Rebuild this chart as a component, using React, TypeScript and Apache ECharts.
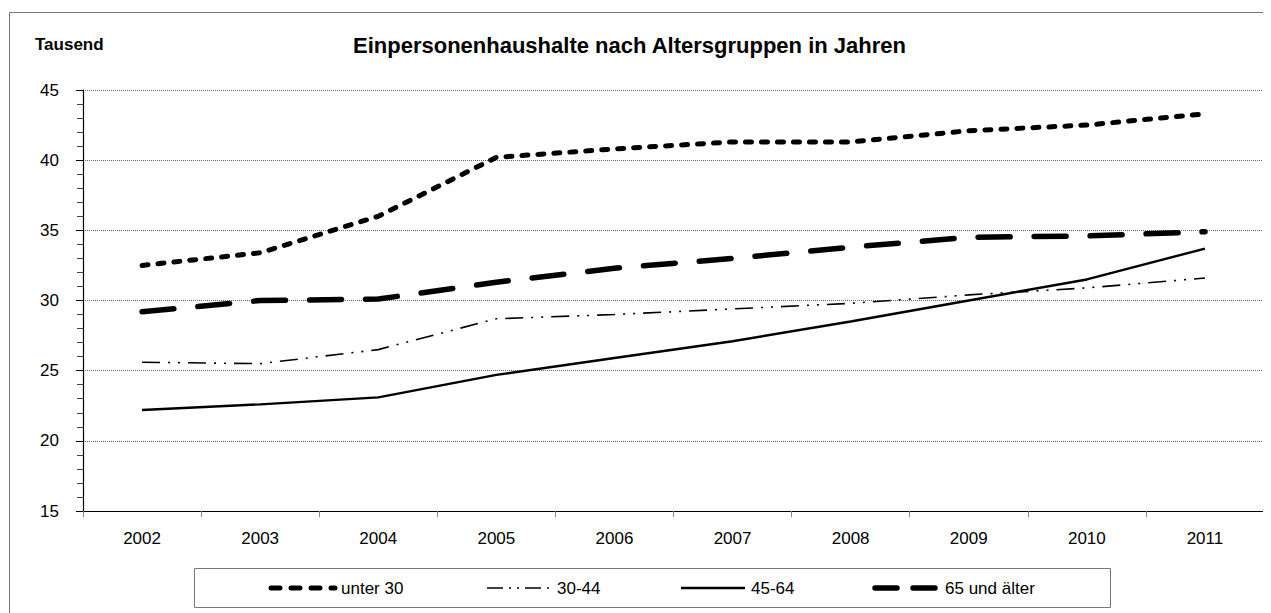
import React, { useEffect, useRef } from "react";
import * as echarts from "echarts";

const years = ["2002", "2003", "2004", "2005", "2006", "2007", "2008", "2009", "2010", "2011"];
const unter30 = [32.5, 33.4, 36.0, 40.2, 40.8, 41.3, 41.3, 42.1, 42.5, 43.3];
const s30bis44 = [25.6, 25.5, 26.5, 28.7, 29.0, 29.4, 29.8, 30.4, 30.9, 31.6];
const s45bis64 = [22.2, 22.6, 23.1, 24.7, 25.9, 27.1, 28.5, 30.0, 31.5, 33.7];
const s65plus = [29.2, 30.0, 30.1, 31.3, 32.3, 33.0, 33.8, 34.5, 34.6, 34.9];
const seriesNames = ["unter 30", "30-44", "45-64", "65 und älter"];
const yTicks = [15, 20, 25, 30, 35, 40, 45];

const FONT = "'Liberation Sans', Arial, sans-serif";

const styles = [
  { width: 5, type: [6, 10] as number[], cap: "round" },
  { width: 1.6, type: [18, 8, 2, 8, 2, 8] as number[], cap: "butt" },
  { width: 2.4, type: "solid" as any, cap: "butt" },
  { width: 5.5, type: [32, 24] as number[], cap: "round" },
];
const legendDash = [[9, 11], [16, 6, 2, 6, 2, 6], null, [22, 16]];

export default function App() {
  const ref = useRef<HTMLDivElement>(null);
  useEffect(() => {
    if (!ref.current) return;
    const chart = echarts.init(ref.current, null, { renderer: "svg" });
    const dataSets = [unter30, s30bis44, s45bis64, s65plus];

    // legend built as graphics (positions are layout only)
    const legendIconX = [260, 476, 670, 864];
    const legendY = 580;
    const legendItems: any[] = [];
    seriesNames.forEach((name, i) => {
      const st = styles[i];
      legendItems.push({
        type: "line",
        shape: { x1: legendIconX[i] + 3, y1: legendY, x2: legendIconX[i] + 67, y2: legendY },
        style: {
          stroke: "#000",
          lineWidth: st.width,
          lineDash: legendDash[i] || undefined,
          lineCap: st.cap,
        },
        silent: true,
      });
      legendItems.push({
        type: "text",
        x: legendIconX[i] + 73,
        y: legendY,
        style: {
          text: name,
          fontFamily: FONT,
          fontSize: 17,
          fill: "#000",
          verticalAlign: "middle",
          align: "left",
        },
        silent: true,
      });
    });

    chart.setOption({
      animation: false,
      backgroundColor: "#ffffff",
      textStyle: { fontFamily: FONT, color: "#000" },
      title: [
        {
          text: "Einpersonenhaushalte nach Altersgruppen in Jahren",
          left: 340,
          top: 21,
          textStyle: { fontFamily: FONT, fontSize: 22, fontWeight: "bold", color: "#000" },
        },
        {
          text: "Tausend",
          left: 22,
          top: 23,
          textStyle: { fontFamily: FONT, fontSize: 17, fontWeight: "bold", color: "#000" },
        },
      ],
      graphic: [
        {
          type: "rect",
          shape: { x: 1.5, y: 4.5, width: 1400, height: 800 },
          style: { fill: "none", stroke: "#777", lineWidth: 1 },
          silent: true,
          z: -1,
        },
        {
          type: "rect",
          shape: { x: 186.5, y: 560.5, width: 916, height: 39 },
          style: { fill: "none", stroke: "#777", lineWidth: 1 },
          silent: true,
        },
        ...legendItems,
      ],
      grid: { left: 75, right: 7, top: 82, bottom: 102, containLabel: false },
      xAxis: {
        type: "category",
        data: years,
        boundaryGap: true,
        axisLine: { lineStyle: { color: "#000", width: 1.2 } },
        axisTick: { show: true, interval: 0, length: 6, lineStyle: { color: "#888" } },
        axisLabel: { fontFamily: FONT, fontSize: 17, color: "#000", margin: 19 },
        splitLine: { show: false },
      },
      yAxis: [
        {
          type: "value",
          min: yTicks[0],
          max: yTicks[yTicks.length - 1],
          interval: 5,
          axisLine: { show: true, lineStyle: { color: "#000", width: 1.2 } },
          axisTick: { show: true, length: 7, lineStyle: { color: "#000" } },
          minorTick: { show: true, splitNumber: 5, length: 6, lineStyle: { color: "#444" } },
          axisLabel: { fontFamily: FONT, fontSize: 17, color: "#000", margin: 24 },
          splitLine: { show: true, lineStyle: { color: "#666", type: [1, 1], width: 1 } },
        },
        {
          type: "value",
          min: yTicks[0],
          max: yTicks[yTicks.length - 1],
          interval: 5,
          position: "right",
          axisLine: { show: true, lineStyle: { color: "#777", width: 1 } },
          axisTick: { show: false },
          axisLabel: { show: false },
          splitLine: { show: false },
        },
      ],
      series: seriesNames.map((name, i) => ({
        name,
        type: "line",
        data: dataSets[i],
        symbol: "none",
        lineStyle: { color: "#000", width: styles[i].width, type: styles[i].type, cap: styles[i].cap },
        itemStyle: { color: "#000" },
        z: 10 - i,
      })),
    });
    return () => chart.dispose();
  }, []);
  return <div ref={ref} style={{ width: 1263, height: 605 }} />;
}
